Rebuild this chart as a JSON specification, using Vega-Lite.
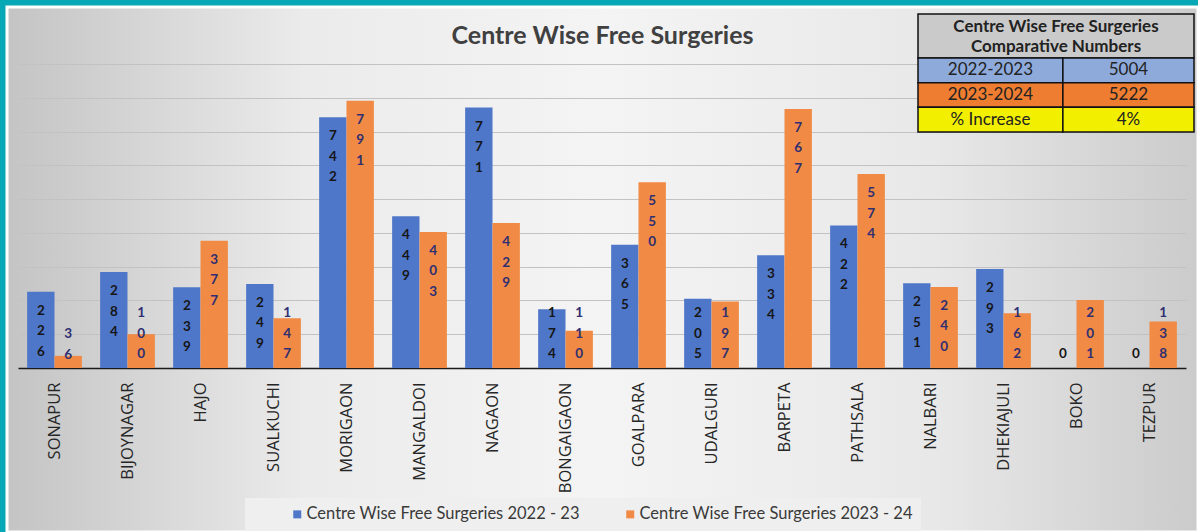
{
  "$schema": "https://vega.github.io/schema/vega-lite/v6.json",
  "width": 1191,
  "height": 525,
  "autosize": "none",
  "padding": {"left": 7, "top": 7, "right": 0, "bottom": 0},
  "background": "#07a8b6",
  "title": {
    "text": "Centre Wise Free Surgeries",
    "anchor": "middle",
    "frame": "group",
    "offset": -62,
    "font": "Lato",
    "fontSize": 25,
    "fontWeight": "bold",
    "color": "#404040",
    "baseline": "alphabetic"
  },
  "config": {
    "view": {
      "fill": {
        "gradient": "linear",
        "x1": 0, "y1": 0, "x2": 1, "y2": 0,
        "stops": [
          {"offset": 0, "color": "#c4c4c4"},
          {"offset": 0.25, "color": "#ebebeb"},
          {"offset": 0.5, "color": "#f4f4f4"},
          {"offset": 0.78, "color": "#e8e8e8"},
          {"offset": 1, "color": "#cbcbcb"}
        ]
      },
      "stroke": "#ffffff",
      "strokeWidth": 3
    }
  },
  "datasets": {
    "surgeries": [
      {"centre": "SONAPUR", "series": "Centre Wise Free Surgeries 2022 - 23", "value": 226},
      {"centre": "SONAPUR", "series": "Centre Wise Free Surgeries 2023 - 24", "value": 36},
      {"centre": "BIJOYNAGAR", "series": "Centre Wise Free Surgeries 2022 - 23", "value": 284},
      {"centre": "BIJOYNAGAR", "series": "Centre Wise Free Surgeries 2023 - 24", "value": 100},
      {"centre": "HAJO", "series": "Centre Wise Free Surgeries 2022 - 23", "value": 239},
      {"centre": "HAJO", "series": "Centre Wise Free Surgeries 2023 - 24", "value": 377},
      {"centre": "SUALKUCHI", "series": "Centre Wise Free Surgeries 2022 - 23", "value": 249},
      {"centre": "SUALKUCHI", "series": "Centre Wise Free Surgeries 2023 - 24", "value": 147},
      {"centre": "MORIGAON", "series": "Centre Wise Free Surgeries 2022 - 23", "value": 742},
      {"centre": "MORIGAON", "series": "Centre Wise Free Surgeries 2023 - 24", "value": 791},
      {"centre": "MANGALDOI", "series": "Centre Wise Free Surgeries 2022 - 23", "value": 449},
      {"centre": "MANGALDOI", "series": "Centre Wise Free Surgeries 2023 - 24", "value": 403},
      {"centre": "NAGAON", "series": "Centre Wise Free Surgeries 2022 - 23", "value": 771},
      {"centre": "NAGAON", "series": "Centre Wise Free Surgeries 2023 - 24", "value": 429},
      {"centre": "BONGAIGAON", "series": "Centre Wise Free Surgeries 2022 - 23", "value": 174},
      {"centre": "BONGAIGAON", "series": "Centre Wise Free Surgeries 2023 - 24", "value": 110},
      {"centre": "GOALPARA", "series": "Centre Wise Free Surgeries 2022 - 23", "value": 365},
      {"centre": "GOALPARA", "series": "Centre Wise Free Surgeries 2023 - 24", "value": 550},
      {"centre": "UDALGURI", "series": "Centre Wise Free Surgeries 2022 - 23", "value": 205},
      {"centre": "UDALGURI", "series": "Centre Wise Free Surgeries 2023 - 24", "value": 197},
      {"centre": "BARPETA", "series": "Centre Wise Free Surgeries 2022 - 23", "value": 334},
      {"centre": "BARPETA", "series": "Centre Wise Free Surgeries 2023 - 24", "value": 767},
      {"centre": "PATHSALA", "series": "Centre Wise Free Surgeries 2022 - 23", "value": 422},
      {"centre": "PATHSALA", "series": "Centre Wise Free Surgeries 2023 - 24", "value": 574},
      {"centre": "NALBARI", "series": "Centre Wise Free Surgeries 2022 - 23", "value": 251},
      {"centre": "NALBARI", "series": "Centre Wise Free Surgeries 2023 - 24", "value": 240},
      {"centre": "DHEKIAJULI", "series": "Centre Wise Free Surgeries 2022 - 23", "value": 293},
      {"centre": "DHEKIAJULI", "series": "Centre Wise Free Surgeries 2023 - 24", "value": 162},
      {"centre": "BOKO", "series": "Centre Wise Free Surgeries 2022 - 23", "value": 0},
      {"centre": "BOKO", "series": "Centre Wise Free Surgeries 2023 - 24", "value": 201},
      {"centre": "TEZPUR", "series": "Centre Wise Free Surgeries 2022 - 23", "value": 0},
      {"centre": "TEZPUR", "series": "Centre Wise Free Surgeries 2023 - 24", "value": 138}
    ],
    "summary": [
      {"row": "2022-2023", "number": "5004"},
      {"row": "2023-2024", "number": "5222"},
      {"row": "% Increase", "number": "4%"}
    ],
    "heading": [
      {"heading": "Centre Wise Free Surgeries Comparative Numbers"}
    ]
  },
  "layer": [
    {
      "data": {"name": "surgeries"},
      "encoding": {
        "x": {
          "field": "centre",
          "type": "nominal",
          "sort": null,
          "scale": {"range": [11, 1179], "paddingInner": 0.25, "paddingOuter": 0.125},
          "axis": {
            "title": null,
            "orient": "bottom",
            "offset": -164,
            "labelAngle": -90,
            "labelFont": "Open Sans",
            "labelFontSize": 16.5,
            "labelColor": "#262626",
            "labelPadding": 14,
            "labelLimit": 300,
            "ticks": false,
            "domainColor": "#1a1a1a",
            "domainWidth": 1.5
          }
        },
        "xOffset": {"field": "series", "type": "nominal", "scale": {"paddingInner": 0, "paddingOuter": 0}},
        "y": {
          "field": "value",
          "type": "quantitative",
          "scale": {"domain": [0, 900], "range": [361, 57], "nice": false},
          "axis": {
            "title": null,
            "labels": false,
            "ticks": false,
            "domain": false,
            "grid": true,
            "values": [100, 200, 300, 400, 500, 600, 700, 800, 900],
            "gridColor": "#c2c2c2",
            "gridWidth": 1
          }
        }
      },
      "layer": [
        {
          "mark": {"type": "bar"},
          "encoding": {
            "color": {
              "field": "series",
              "type": "nominal",
              "scale": {"range": ["#4f77c9", "#f08a44"]},
              "legend": {
                "title": null,
                "orient": "none",
                "legendX": 238,
                "legendY": 491,
                "direction": "horizontal",
                "symbolType": "square",
                "symbolSize": 64,
                "symbolStrokeWidth": 0,
                "symbolOffset": 36,
                "labelOffset": 1,
                "labelFont": "Lato",
                "labelFontSize": 16.5,
                "labelColor": "#3a3a3a",
                "labelLimit": 500,
                "columnPadding": 6,
                "padding": 8,
                "fillColor": "#efefef"
              }
            }
          }
        },
        {
          "transform": [{"filter": "datum.value >= 215"}],
          "mark": {
            "type": "text",
            "baseline": "top",
            "dy": 12,
            "font": "Lato",
            "fontSize": 13.5,
            "fontWeight": "bold",
            "lineHeight": 20.5,
            "lineBreak": {"expr": "regexp('(?=.)')"}
          },
          "encoding": {
            "text": {"field": "value", "type": "quantitative"},
            "color": {
              "condition": {"test": "datum.series === 'Centre Wise Free Surgeries 2023 - 24'", "value": "#2f2f72"},
              "value": "#161616"
            }
          }
        },
        {
          "transform": [{"filter": "datum.value < 215 && datum.value >= 100"}],
          "mark": {
            "type": "text",
            "baseline": "top",
            "dy": -62,
            "font": "Lato",
            "fontSize": 13.5,
            "fontWeight": "bold",
            "lineHeight": 20.5,
            "lineBreak": {"expr": "regexp('(?=.)')"}
          },
          "encoding": {
            "y": {"datum": 0, "type": "quantitative"},
            "text": {"field": "value", "type": "quantitative"},
            "color": {
              "condition": {"test": "datum.series === 'Centre Wise Free Surgeries 2023 - 24'", "value": "#2f2f72"},
              "value": "#161616"
            }
          }
        },
        {
          "transform": [{"filter": "datum.value < 100 && datum.value >= 10"}],
          "mark": {
            "type": "text",
            "baseline": "top",
            "dy": -41,
            "font": "Lato",
            "fontSize": 13.5,
            "fontWeight": "bold",
            "lineHeight": 20.5,
            "lineBreak": {"expr": "regexp('(?=.)')"}
          },
          "encoding": {
            "y": {"datum": 0, "type": "quantitative"},
            "text": {"field": "value", "type": "quantitative"},
            "color": {
              "condition": {"test": "datum.series === 'Centre Wise Free Surgeries 2023 - 24'", "value": "#2f2f72"},
              "value": "#161616"
            }
          }
        },
        {
          "transform": [{"filter": "datum.value < 10"}],
          "mark": {
            "type": "text",
            "baseline": "top",
            "dy": -21,
            "font": "Lato",
            "fontSize": 13.5,
            "fontWeight": "bold"
          },
          "encoding": {
            "y": {"datum": 0, "type": "quantitative"},
            "text": {"field": "value", "type": "quantitative"},
            "color": {
              "condition": {"test": "datum.series === 'Centre Wise Free Surgeries 2023 - 24'", "value": "#2f2f72"},
              "value": "#161616"
            }
          }
        }
      ]
    },
    {
      "data": {"name": "heading"},
      "encoding": {
        "x": {"datum": 0, "type": "quantitative", "scale": {"domain": [0, 1], "range": [911, 1187], "nice": false, "zero": false}, "axis": null},
        "y": {"datum": 0, "type": "quantitative", "scale": {"domain": [0, 1], "range": [7, 51], "nice": false, "zero": false}, "axis": null}
      },
      "layer": [
        {
          "mark": {"type": "rect", "fill": "#cacaca", "stroke": "#111111", "strokeWidth": 1.5},
          "encoding": {"x2": {"datum": 1}, "y2": {"datum": 1}}
        },
        {
          "mark": {
            "type": "text",
            "text": ["Centre Wise Free Surgeries", "Comparative Numbers"],
            "font": "Lato",
            "fontSize": 17,
            "fontWeight": "bold",
            "lineHeight": 20,
            "baseline": "top",
            "dy": 5,
            "color": "#222222"
          },
          "encoding": {"x": {"datum": 0.5, "type": "quantitative"}}
        }
      ]
    },
    {
      "data": {"name": "summary"},
      "encoding": {
        "y": {
          "field": "row",
          "type": "nominal",
          "sort": null,
          "scale": {"range": [51, 125], "paddingInner": 0, "paddingOuter": 0},
          "axis": null
        }
      },
      "layer": [
        {
          "mark": {"type": "rect", "stroke": "#111111", "strokeWidth": 1.5},
          "encoding": {
            "x": {"datum": 0, "type": "quantitative", "scale": {"domain": [0, 1], "range": [911, 1187], "nice": false, "zero": false}, "axis": null},
            "x2": {"datum": 0.525},
            "fill": {"field": "row", "type": "nominal", "sort": null, "scale": {"range": ["#8eaadb", "#ee7d31", "#f3ef00"]}, "legend": null}
          }
        },
        {
          "mark": {"type": "rect", "stroke": "#111111", "strokeWidth": 1.5},
          "encoding": {
            "x": {"datum": 0.525, "type": "quantitative"},
            "x2": {"datum": 1},
            "fill": {"field": "row", "type": "nominal", "sort": null, "legend": null}
          }
        },
        {
          "mark": {"type": "text", "font": "Lato", "fontSize": 17, "color": "#222222", "baseline": "middle"},
          "encoding": {"x": {"datum": 0.2625, "type": "quantitative"}, "text": {"field": "row"}}
        },
        {
          "mark": {"type": "text", "font": "Lato", "fontSize": 17, "color": "#222222", "baseline": "middle"},
          "encoding": {"x": {"datum": 0.7625, "type": "quantitative"}, "text": {"field": "number"}}
        }
      ]
    }
  ],
  "resolve": {"scale": {"x": "independent", "y": "independent"}}
}
